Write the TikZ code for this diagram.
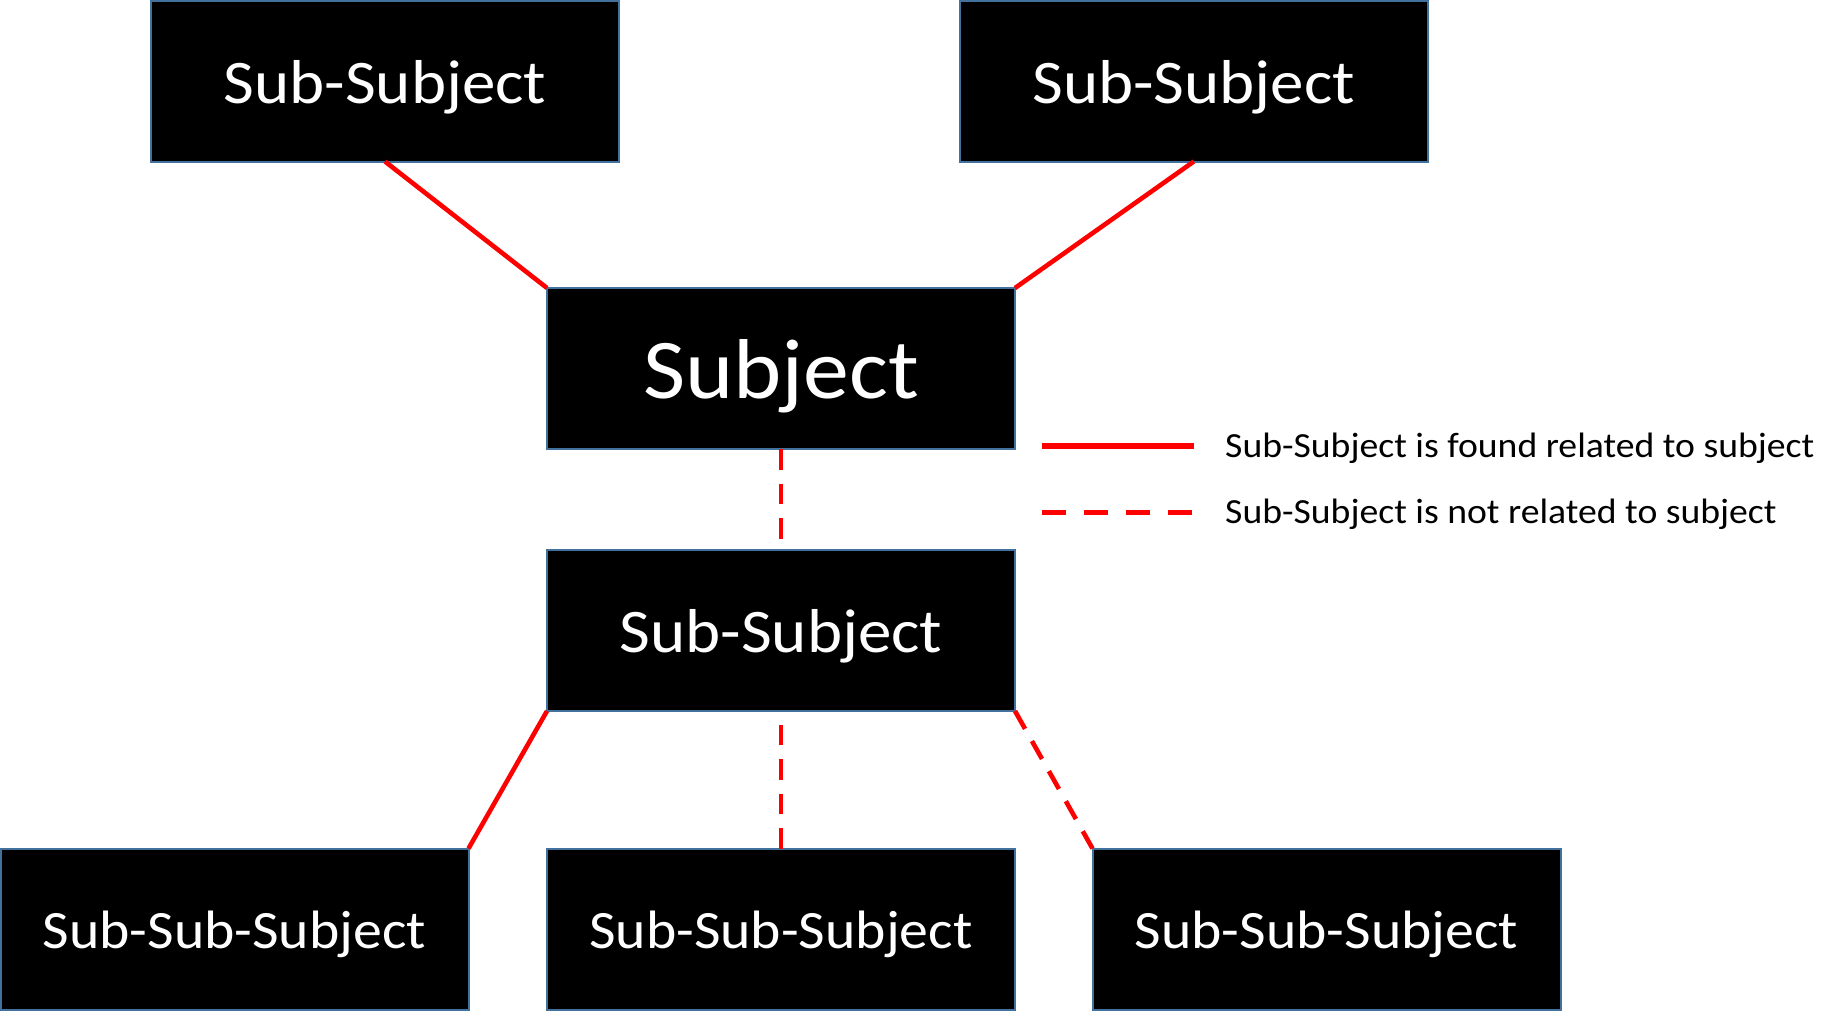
\documentclass[tikz,border=0pt]{standalone}
\usepackage{graphicx}
\usepackage{fontspec}
\setmainfont{Carlito}
\definecolor{boxblue}{HTML}{41719C}
\definecolor{linered}{HTML}{FF0000}
\newcommand\widetxt[2]{\scalebox{#1}[1]{#2}}
\begin{document}
\begin{tikzpicture}[x=1pt,y=-1pt,
  box/.style={fill=black,draw=boxblue,line width=2pt,minimum width=468pt,minimum height=161pt,
    inner sep=0pt,outer sep=0pt,text=white,text depth=0pt},
  subjbox/.style={box,font=\fontsize{85}{85}\selectfont,text height=59pt},
  subbox/.style={box,font=\fontsize{62}{62}\selectfont,text height=44pt},
  subsubbox/.style={box,font=\fontsize{54}{54}\selectfont,text height=38pt},
  rel/.style={draw=linered,line width=4.6pt},
  norel/.style={rel,dash pattern=on 20.5pt off 14pt},
  legendtext/.style={font=\fontsize{35.3}{35.3}\selectfont,anchor=base west,inner sep=0pt,text=black}]
\useasboundingbox (0,0) rectangle (1844,1010);
\fill[white] (0,0) rectangle (1844,1010);

% boxes
\node[subbox] (tl) at (385,81) {\widetxt{1.08}{Sub-Subject}};
\node[subbox] (tr) at (1193.8,81) {\widetxt{1.08}{Sub-Subject}};
\node[subjbox] (subj) at (781,368.5) {\widetxt{1.08}{Subject}};
\node[subbox] (mid) at (781,630.5) {\widetxt{1.08}{Sub-Subject}};
\node[subsubbox] (bl) at (234.5,929) {\widetxt{1.07}{Sub-Sub-Subject}};
\node[subsubbox] (bm) at (781,929) {\widetxt{1.07}{Sub-Sub-Subject}};
\node[subsubbox] (br) at (1326.5,929) {\widetxt{1.07}{Sub-Sub-Subject}};

% connectors
\draw[rel] (tl.south) -- (subj.north west);
\draw[rel] (tr.south) -- (subj.north east);
\draw[norel] (subj.south) -- (mid.north);
\draw[rel] (mid.south west) -- (bl.north east);
\draw[norel] (bm.north) -- (mid.south);
\draw[norel] (mid.south east) -- (br.north west);

% legend
\coordinate (ls1) at (1042,446);
\coordinate (le1) at (1194,446);
\coordinate (ls2) at (1042,512.3);
\coordinate (le2) at (1194,512.3);
\draw[draw=linered,line width=5.5pt] (ls1) -- (le1);
\draw[draw=linered,line width=5.5pt,dash pattern=on 24pt off 18pt] (ls2) -- (le2);
\node[legendtext] (lt1) at (1225,457.3) {\widetxt{1.068}{Sub-Subject is found related to subject}};
\node[legendtext] (lt2) at (1225,523.5) {\widetxt{1.068}{Sub-Subject is not related to subject}};
\end{tikzpicture}
\end{document}
